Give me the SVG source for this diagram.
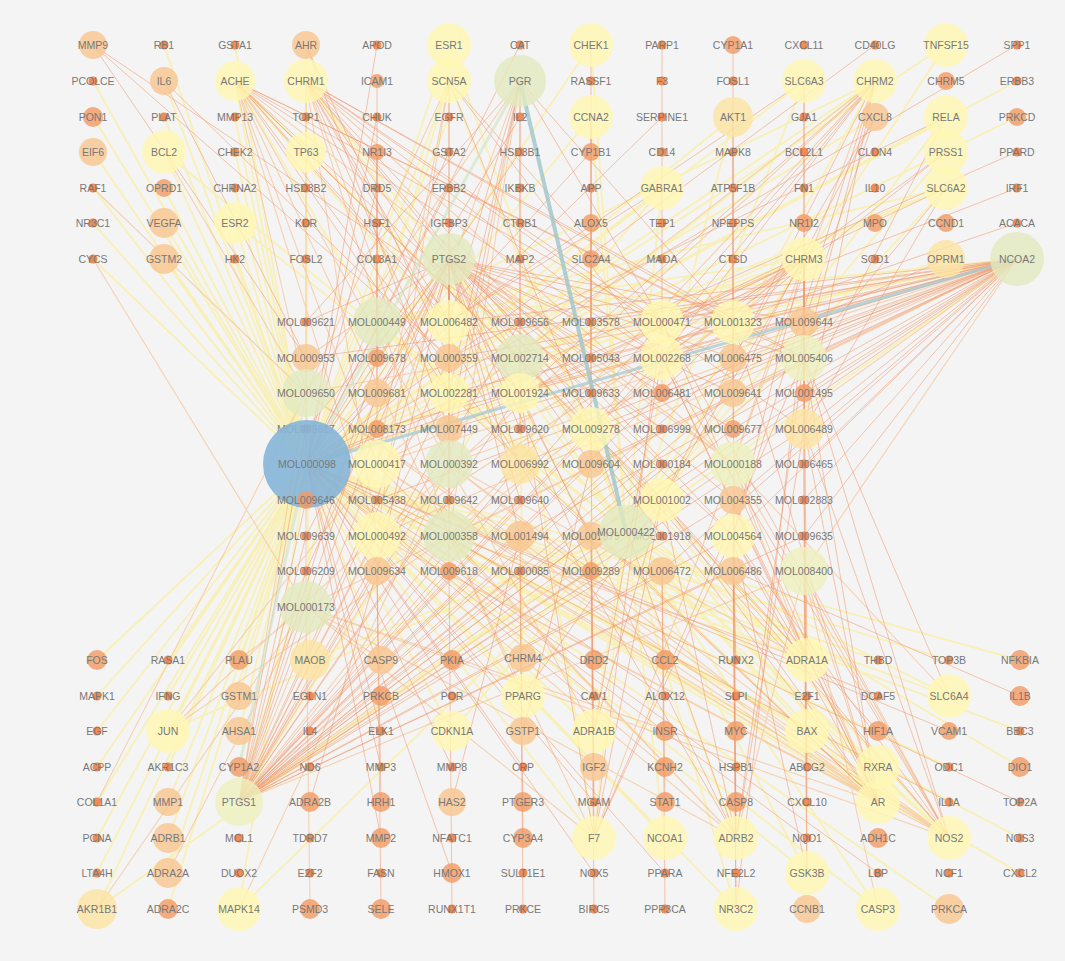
<svg xmlns="http://www.w3.org/2000/svg" width="1065" height="961" viewBox="0 0 1065 961">
<style>
.bg{fill:#f4f4f4}
.ey{fill:none;stroke:#f9ee9a;stroke-width:1.8;stroke-opacity:.7}
.elo{fill:none;stroke:#f6ba86;stroke-width:1.1;stroke-opacity:.6}
.eo{fill:none;stroke:#f19263;stroke-width:1;stroke-opacity:.5}
.et{fill:none;stroke:#9dc5c9;stroke-width:4;stroke-opacity:.8}
.et2{fill:none;stroke:#a6cbd0;stroke-width:3;stroke-opacity:.75}
.eg{fill:none;stroke:#cfe2c2;stroke-width:3;stroke-opacity:.6}
circle{fill-opacity:.8}
.s{fill:#ef8b55;fill-opacity:1}
.m{fill:#f39a62}
.l{fill:#f9c58e}
.ly{fill:#fce3a1}
.y{fill:#fff7b2}
.gy{fill:#eef1be}
.g{fill:#e2eabf}
.b{fill:#86b5d8;fill-opacity:.9}
text{font-family:"Liberation Sans",Arial,sans-serif;font-size:10.5px;fill:#787878;text-anchor:middle;dominant-baseline:central}
</style>
<rect class="bg" width="1065" height="961"/>
<g id="connectors">
<path class="ey" d="M307 464L93 81M307 464L93 117M307 464L93 152M307 464L93 188M307 464L93 223M307 464L93 259M307 464L164 45M307 464L164 81M307 464L164 117M307 464L164 152M307 464L164 188M307 464L164 223M307 464L164 259M307 464L235 45M307 464L235 81M307 464L235 117M307 464L235 152M307 464L235 188M307 464L235 223M307 464L235 259M307 464L306 45M307 464L449 45M307 464L449 81M307 464L449 117M307 464L591 45M307 464L591 117M307 464L662 188M307 464L733 117M307 464L804 81M307 464L875 81M307 464L946 117M307 464L946 152M307 464L946 188M307 464L804 259M307 464L946 259M307 464L875 117M307 464L946 45M307 464L1017 117M307 464L1017 81M307 464L97 660M307 464L97 696M307 464L97 731M307 464L97 767M307 464L97 802M307 464L97 838M307 464L97 873M307 464L97 909M307 464L168 660M307 464L168 696M307 464L168 731M307 464L168 767M307 464L168 802M307 464L168 838M307 464L168 873M307 464L168 909M307 464L239 660M307 464L239 696M307 464L239 731M307 464L239 909M307 464L310 660M307 464L381 660M307 464L452 731M307 464L523 696M307 464L594 731M307 464L594 838M307 464L665 838M307 464L807 660M307 464L807 731M307 464L878 767M307 464L878 802M307 464L949 838M307 464L807 873M307 464L878 909M307 464L736 909M307 464L949 696M307 464L949 909M307 464L1020 660M307 464L1020 731M307 464L1020 838M307 464L1020 873M307 464L949 767M307 464L878 660M307 464L949 660M626 532L235 81M626 532L306 81M626 532L875 81M626 532L804 259M626 532L449 81M626 532L449 259M626 532L239 802M626 532L1017 259M626 532L949 838M626 532L878 802M626 532L594 838M626 532L736 838M626 532L594 731M626 532L807 660M626 532L949 696M626 532L804 81M626 532L946 188M626 532L662 188M626 532L946 152M626 532L878 767M626 532L878 909M626 532L164 152M626 532L733 117M626 532L168 731M626 532L239 909M626 532L807 873M626 532L736 909M626 532L523 696M626 532L591 45M626 532L591 117M626 532L946 45M626 532L946 117M626 532L310 660M626 532L452 731M626 532L665 838M626 532L807 731M626 532L97 909M626 532L235 223M626 532L449 45M626 532L1020 767M377 322L235 81M377 322L449 81M377 322L875 81M377 322L804 259M377 322L1017 259M377 322L239 802M377 322L949 838M377 322L878 802M377 322L807 660M377 322L946 188M520 358L235 81M520 358L306 81M520 358L875 81M520 358L804 259M520 358L1017 259M520 358L662 188M520 358L946 188M520 358L239 802M520 358L878 802M520 358L949 838M520 358L594 838M520 358L807 660M520 358L523 696"/>
<path class="elo" d="M377 464L235 81M377 464L449 81M377 464L520 81M377 464L875 81M377 464L804 259M377 464L1017 259M377 464L239 802M377 464L949 838M377 464L878 802M377 464L736 838M377 464L168 731M449 464L306 81M449 464L235 81M449 464L520 81M449 464L1017 259M449 464L804 259M449 464L239 802M449 464L949 838M449 464L878 802M449 464L594 731M449 464L807 660M449 464L239 909M449 464L449 81M449 536L306 81M449 536L235 81M449 536L520 81M449 536L875 81M449 536L804 259M449 536L1017 259M449 536L239 802M449 536L878 802M449 536L949 838M449 536L594 838M449 536L736 838M449 536L807 660M449 536L523 696M449 536L168 731M377 536L306 81M377 536L235 81M377 536L449 81M377 536L875 81M377 536L804 259M377 536L1017 259M377 536L239 802M377 536L878 802M377 536L949 838M377 536L736 838M377 536L168 731M306 393L235 81M306 393L449 81M306 393L520 81M306 393L1017 259M306 393L239 802M306 393L878 802M306 393L949 838M306 393L164 152M306 393L93 188M306 393L97 802M733 464L306 81M733 464L235 81M733 464L875 81M733 464L804 259M733 464L1017 259M733 464L449 259M733 464L239 802M733 464L878 802M733 464L949 838M733 464L594 838M733 464L807 660M733 464L949 696M306 607L306 81M306 607L310 909M306 607L878 802M306 607L949 838M306 607L1017 259M306 607L736 838M306 607L168 873M306 607L97 909M306 607L239 660M306 607L381 660M306 607L594 838M306 607L93 259M804 571L807 873M804 571L878 909M804 571L949 838M804 571L1017 259M804 571L239 802M804 571L878 802M804 571L736 838"/>
<path class="eo" d="M306 322L449 259M306 322L520 81M449 322L449 81M449 322L306 81M449 322L520 81M449 322L1017 259M449 322L235 81M449 322L804 81M449 322L662 188M520 322L520 81M520 322L449 259M520 322L239 802M591 322L591 45M591 322L449 259M591 322L1017 259M662 322L306 81M662 322L235 81M662 322L875 81M662 322L449 81M662 322L520 81M662 322L1017 259M662 322L804 259M662 322L946 188M662 322L949 838M662 322L878 802M662 322L594 838M662 322L239 802M733 322L306 81M733 322L235 81M733 322L520 81M733 322L1017 259M733 322L804 259M733 322L946 152M733 322L449 259M733 322L239 802M733 322L878 802M733 322L736 838M804 322L804 81M804 322L1017 259M804 322L946 259M804 322L875 117M804 322L449 259M804 322L736 909M306 358L93 45M306 358L164 81M306 358L449 259M306 358L1017 259M377 358L377 81M377 358L449 259M377 358L239 802M449 358L93 45M449 358L164 81M449 358L306 45M449 358L449 259M449 358L239 802M449 358L946 117M449 358L1017 259M591 358L591 117M591 358L449 259M591 358L1017 259M662 358L306 81M662 358L235 81M662 358L449 81M662 358L875 81M662 358L804 259M662 358L1017 259M662 358L239 802M662 358L949 838M662 358L878 802M662 358L807 660M662 358L594 731M662 358L946 152M733 358L733 45M733 358L875 117M733 358L449 259M733 358L1017 259M733 358L239 802M804 358L306 81M804 358L235 81M804 358L875 81M804 358L804 259M804 358L1017 259M804 358L946 188M804 358L449 259M804 358L239 802M804 358L878 802M804 358L949 838M804 358L736 838M804 358L594 838M804 358L807 660M804 358L949 696M377 393L377 152M377 393L449 259M377 393L239 802M449 393L306 81M449 393L235 81M449 393L520 81M449 393L1017 259M449 393L449 259M449 393L239 802M449 393L878 802M520 393L306 81M520 393L235 81M520 393L875 81M520 393L804 259M520 393L1017 259M520 393L239 802M520 393L594 838M520 393L736 838M591 393L591 117M591 393L449 259M662 393L662 45M662 393L449 259M662 393L1017 259M733 393L733 117M733 393L875 117M733 393L449 259M733 393L239 802M733 393L1017 259M804 393L804 81M804 393L1017 259M804 393L946 117M306 429L449 259M306 429L239 802M377 429L377 152M377 429L449 259M377 429L1017 259M377 429L239 802M449 429L449 259M449 429L239 802M449 429L1017 259M449 429L520 81M449 429L306 45M520 429L520 81M520 429L449 259M591 429L235 81M591 429L306 81M591 429L449 81M591 429L875 81M591 429L804 259M591 429L1017 259M591 429L239 802M591 429L949 838M591 429L878 802M591 429L594 838M591 429L807 660M591 429L736 838M662 429L93 45M662 429L449 259M662 429L239 802M733 429L733 152M733 429L449 259M733 429L1017 259M733 429L239 802M804 429L306 81M804 429L875 81M804 429L804 259M804 429L1017 259M804 429L946 188M804 429L239 802M804 429L949 838M804 429L878 802M804 429L736 838M520 464L306 81M520 464L235 81M520 464L1017 259M520 464L449 259M520 464L239 802M520 464L878 802M520 464L736 838M591 464L591 223M591 464L449 259M591 464L1017 259M591 464L239 802M591 464L523 731M662 464L449 259M662 464L239 802M804 464L804 259M804 464L1017 259M804 464L807 767M306 500L449 259M306 500L239 802M377 500L449 259M377 500L1017 259M377 500L239 802M449 500L449 259M449 500L239 802M520 500L449 259M520 500L239 802M662 500L306 81M662 500L235 81M662 500L875 81M662 500L804 259M662 500L1017 259M662 500L239 802M662 500L878 802M662 500L949 838M662 500L736 838M662 500L594 838M662 500L807 660M662 500L594 731M662 500L523 696M733 500L449 259M733 500L1017 259M733 500L239 802M733 500L878 802M733 500L736 909M804 500L804 259M804 500L1017 259M804 500L807 802M306 536L449 259M306 536L239 802M520 536L449 259M520 536L239 802M520 536L1017 259M520 536L523 838M520 536L452 802M591 536L449 259M591 536L239 802M591 536L1017 259M591 536L594 802M591 536L594 767M662 536L449 259M662 536L239 802M733 536L306 81M733 536L235 81M733 536L875 81M733 536L804 259M733 536L1017 259M733 536L239 802M733 536L878 802M733 536L949 838M733 536L736 838M733 536L594 838M733 536L807 660M733 536L807 873M804 536L1017 259M804 536L807 873M804 536L239 802M306 571L239 802M306 571L449 259M377 571L381 802M377 571L381 909M377 571L239 802M377 571L449 259M377 571L310 802M449 571L452 909M449 571L239 802M449 571L449 259M520 571L523 909M520 571L239 802M591 571L594 909M591 571L239 802M591 571L449 259M662 571L665 909M662 571L665 802M662 571L239 802M662 571L1017 259M733 571L736 909M733 571L736 660M733 571L878 731M733 571L1020 696M733 571L239 802M307 464L1017 188M307 464L1017 152M307 464L1017 223M307 464L1020 802M307 464L949 802M307 464L878 873M307 464L878 696M307 464L949 731M307 464L807 838M307 464L665 696M307 464L594 696M307 464L452 696M307 464L381 731M307 464L452 767M307 464L523 767M307 464L381 767M307 464L665 767M307 464L594 802M307 464L381 838M307 464L452 873M307 464L594 873M307 464L665 873M307 464L1017 45M307 464L875 45M307 464L662 117M307 464L591 152M307 464L520 117M307 464L520 152M307 464L449 152M307 464L449 188M307 464L377 117M307 464L377 188M307 464L377 45M307 464L520 45"/>
<path class="eg" d="M520 81L307 464M307 464L239 767"/>
<path class="et" d="M520 81L626 532"/>
<path class="et2" d="M1017 259L307 464"/>
</g>
<g id="nodes">
<g id="n-MMP9" transform="translate(93 45)"><circle class="l" r="14"/><text>MMP9</text></g>
<g id="n-RB1" transform="translate(164 45)"><circle class="s" r="4.5"/><text>RB1</text></g>
<g id="n-GSTA1" transform="translate(235 45)"><circle class="s" r="4.5"/><text>GSTA1</text></g>
<g id="n-AHR" transform="translate(306 45)"><circle class="l" r="14"/><text>AHR</text></g>
<g id="n-APOD" transform="translate(377 45)"><circle class="s" r="4.5"/><text>APOD</text></g>
<g id="n-ESR1" transform="translate(449 45)"><circle class="y" r="22"/><text>ESR1</text></g>
<g id="n-CAT" transform="translate(520 45)"><circle class="s" r="4.5"/><text>CAT</text></g>
<g id="n-CHEK1" transform="translate(591 45)"><circle class="y" r="22"/><text>CHEK1</text></g>
<g id="n-PARP1" transform="translate(662 45)"><circle class="s" r="4.5"/><text>PARP1</text></g>
<g id="n-CYP1A1" transform="translate(733 45)"><circle class="m" r="9"/><text>CYP1A1</text></g>
<g id="n-CXCL11" transform="translate(804 45)"><circle class="s" r="4.5"/><text>CXCL11</text></g>
<g id="n-CD40LG" transform="translate(875 45)"><circle class="s" r="4.5"/><text>CD40LG</text></g>
<g id="n-TNFSF15" transform="translate(946 45)"><circle class="y" r="22"/><text>TNFSF15</text></g>
<g id="n-SPP1" transform="translate(1017 45)"><circle class="s" r="4.5"/><text>SPP1</text></g>
<g id="n-PCOLCE" transform="translate(93 81)"><circle class="s" r="4.5"/><text>PCOLCE</text></g>
<g id="n-IL6" transform="translate(164 81)"><circle class="l" r="14"/><text>IL6</text></g>
<g id="n-ACHE" transform="translate(235 81)"><circle class="y" r="20"/><text>ACHE</text></g>
<g id="n-CHRM1" transform="translate(306 81)"><circle class="y" r="22"/><text>CHRM1</text></g>
<g id="n-ICAM1" transform="translate(377 81)"><circle class="m" r="7"/><text>ICAM1</text></g>
<g id="n-SCN5A" transform="translate(449 81)"><circle class="y" r="22"/><text>SCN5A</text></g>
<g id="n-PGR" transform="translate(520 81)"><circle class="g" r="26"/><text>PGR</text></g>
<g id="n-RASSF1" transform="translate(591 81)"><circle class="s" r="4.5"/><text>RASSF1</text></g>
<g id="n-F3" transform="translate(662 81)"><circle class="s" r="4.5"/><text>F3</text></g>
<g id="n-FOSL1" transform="translate(733 81)"><circle class="s" r="4.5"/><text>FOSL1</text></g>
<g id="n-SLC6A3" transform="translate(804 81)"><circle class="y" r="22"/><text>SLC6A3</text></g>
<g id="n-CHRM2" transform="translate(875 81)"><circle class="y" r="22"/><text>CHRM2</text></g>
<g id="n-CHRM5" transform="translate(946 81)"><circle class="m" r="9"/><text>CHRM5</text></g>
<g id="n-ERBB3" transform="translate(1017 81)"><circle class="s" r="4.5"/><text>ERBB3</text></g>
<g id="n-PON1" transform="translate(93 117)"><circle class="m" r="10"/><text>PON1</text></g>
<g id="n-PLAT" transform="translate(164 117)"><circle class="s" r="4.5"/><text>PLAT</text></g>
<g id="n-MMP13" transform="translate(235 117)"><circle class="s" r="4.5"/><text>MMP13</text></g>
<g id="n-TOP1" transform="translate(306 117)"><circle class="s" r="4.5"/><text>TOP1</text></g>
<g id="n-CHUK" transform="translate(377 117)"><circle class="s" r="4.5"/><text>CHUK</text></g>
<g id="n-EGFR" transform="translate(449 117)"><circle class="s" r="4.5"/><text>EGFR</text></g>
<g id="n-IL2" transform="translate(520 117)"><circle class="s" r="4.5"/><text>IL2</text></g>
<g id="n-CCNA2" transform="translate(591 117)"><circle class="y" r="22"/><text>CCNA2</text></g>
<g id="n-SERPINE1" transform="translate(662 117)"><circle class="s" r="4.5"/><text>SERPINE1</text></g>
<g id="n-AKT1" transform="translate(733 117)"><circle class="ly" r="20"/><text>AKT1</text></g>
<g id="n-GJA1" transform="translate(804 117)"><circle class="s" r="4.5"/><text>GJA1</text></g>
<g id="n-CXCL8" transform="translate(875 117)"><circle class="l" r="14"/><text>CXCL8</text></g>
<g id="n-RELA" transform="translate(946 117)"><circle class="y" r="22"/><text>RELA</text></g>
<g id="n-PRKCD" transform="translate(1017 117)"><circle class="m" r="9"/><text>PRKCD</text></g>
<g id="n-EIF6" transform="translate(93 152)"><circle class="l" r="14"/><text>EIF6</text></g>
<g id="n-BCL2" transform="translate(164 152)"><circle class="y" r="22"/><text>BCL2</text></g>
<g id="n-CHEK2" transform="translate(235 152)"><circle class="s" r="4.5"/><text>CHEK2</text></g>
<g id="n-TP63" transform="translate(306 152)"><circle class="y" r="20"/><text>TP63</text></g>
<g id="n-NR1I3" transform="translate(377 152)"><circle class="m" r="8"/><text>NR1I3</text></g>
<g id="n-GSTA2" transform="translate(449 152)"><circle class="s" r="4.5"/><text>GSTA2</text></g>
<g id="n-HSD3B1" transform="translate(520 152)"><circle class="s" r="4.5"/><text>HSD3B1</text></g>
<g id="n-CYP1B1" transform="translate(591 152)"><circle class="m" r="9"/><text>CYP1B1</text></g>
<g id="n-CD14" transform="translate(662 152)"><circle class="s" r="4.5"/><text>CD14</text></g>
<g id="n-MAPK8" transform="translate(733 152)"><circle class="s" r="4.5"/><text>MAPK8</text></g>
<g id="n-BCL2L1" transform="translate(804 152)"><circle class="s" r="4.5"/><text>BCL2L1</text></g>
<g id="n-CLDN4" transform="translate(875 152)"><circle class="s" r="4.5"/><text>CLDN4</text></g>
<g id="n-PRSS1" transform="translate(946 152)"><circle class="y" r="22"/><text>PRSS1</text></g>
<g id="n-PPARD" transform="translate(1017 152)"><circle class="s" r="4.5"/><text>PPARD</text></g>
<g id="n-RAF1" transform="translate(93 188)"><circle class="s" r="4.5"/><text>RAF1</text></g>
<g id="n-OPRD1" transform="translate(164 188)"><circle class="m" r="9"/><text>OPRD1</text></g>
<g id="n-CHRNA2" transform="translate(235 188)"><circle class="s" r="4.5"/><text>CHRNA2</text></g>
<g id="n-HSD3B2" transform="translate(306 188)"><circle class="s" r="4.5"/><text>HSD3B2</text></g>
<g id="n-DRD5" transform="translate(377 188)"><circle class="s" r="4.5"/><text>DRD5</text></g>
<g id="n-ERBB2" transform="translate(449 188)"><circle class="s" r="4.5"/><text>ERBB2</text></g>
<g id="n-IKBKB" transform="translate(520 188)"><circle class="s" r="4.5"/><text>IKBKB</text></g>
<g id="n-APP" transform="translate(591 188)"><circle class="s" r="4.5"/><text>APP</text></g>
<g id="n-GABRA1" transform="translate(662 188)"><circle class="y" r="22"/><text>GABRA1</text></g>
<g id="n-ATP5F1B" transform="translate(733 188)"><circle class="s" r="4.5"/><text>ATP5F1B</text></g>
<g id="n-FN1" transform="translate(804 188)"><circle class="s" r="4.5"/><text>FN1</text></g>
<g id="n-IL10" transform="translate(875 188)"><circle class="s" r="4.5"/><text>IL10</text></g>
<g id="n-SLC6A2" transform="translate(946 188)"><circle class="y" r="22"/><text>SLC6A2</text></g>
<g id="n-IRF1" transform="translate(1017 188)"><circle class="s" r="4.5"/><text>IRF1</text></g>
<g id="n-NR3C1" transform="translate(93 223)"><circle class="s" r="4.5"/><text>NR3C1</text></g>
<g id="n-VEGFA" transform="translate(164 223)"><circle class="l" r="15"/><text>VEGFA</text></g>
<g id="n-ESR2" transform="translate(235 223)"><circle class="y" r="21"/><text>ESR2</text></g>
<g id="n-KDR" transform="translate(306 223)"><circle class="s" r="4.5"/><text>KDR</text></g>
<g id="n-HSF1" transform="translate(377 223)"><circle class="s" r="4.5"/><text>HSF1</text></g>
<g id="n-IGFBP3" transform="translate(449 223)"><circle class="s" r="4.5"/><text>IGFBP3</text></g>
<g id="n-CTRB1" transform="translate(520 223)"><circle class="s" r="4.5"/><text>CTRB1</text></g>
<g id="n-ALOX5" transform="translate(591 223)"><circle class="m" r="9"/><text>ALOX5</text></g>
<g id="n-TEP1" transform="translate(662 223)"><circle class="s" r="4.5"/><text>TEP1</text></g>
<g id="n-NPEPPS" transform="translate(733 223)"><circle class="s" r="4.5"/><text>NPEPPS</text></g>
<g id="n-NR1I2" transform="translate(804 223)"><circle class="m" r="9"/><text>NR1I2</text></g>
<g id="n-MPO" transform="translate(875 223)"><circle class="m" r="9"/><text>MPO</text></g>
<g id="n-CCND1" transform="translate(946 223)"><circle class="m" r="9"/><text>CCND1</text></g>
<g id="n-ACACA" transform="translate(1017 223)"><circle class="s" r="4.5"/><text>ACACA</text></g>
<g id="n-CYCS" transform="translate(93 259)"><circle class="s" r="4.5"/><text>CYCS</text></g>
<g id="n-GSTM2" transform="translate(164 259)"><circle class="l" r="15"/><text>GSTM2</text></g>
<g id="n-HK2" transform="translate(235 259)"><circle class="s" r="4.5"/><text>HK2</text></g>
<g id="n-FOSL2" transform="translate(306 259)"><circle class="s" r="4.5"/><text>FOSL2</text></g>
<g id="n-COL3A1" transform="translate(377 259)"><circle class="s" r="4.5"/><text>COL3A1</text></g>
<g id="n-PTGS2" transform="translate(449 259)"><circle class="g" r="26"/><text>PTGS2</text></g>
<g id="n-MAP2" transform="translate(520 259)"><circle class="s" r="4.5"/><text>MAP2</text></g>
<g id="n-SLC2A4" transform="translate(591 259)"><circle class="m" r="9"/><text>SLC2A4</text></g>
<g id="n-MAOA" transform="translate(662 259)"><circle class="s" r="4.5"/><text>MAOA</text></g>
<g id="n-CTSD" transform="translate(733 259)"><circle class="s" r="4.5"/><text>CTSD</text></g>
<g id="n-CHRM3" transform="translate(804 259)"><circle class="y" r="22"/><text>CHRM3</text></g>
<g id="n-SOD1" transform="translate(875 259)"><circle class="s" r="4.5"/><text>SOD1</text></g>
<g id="n-OPRM1" transform="translate(946 259)"><circle class="ly" r="19"/><text>OPRM1</text></g>
<g id="n-NCOA2" transform="translate(1017 259)"><circle class="g" r="27"/><text>NCOA2</text></g>
<g id="n-MOL009621" transform="translate(306 322)"><circle class="s" r="4.5"/><text>MOL009621</text></g>
<g id="n-MOL000449" transform="translate(377 322)"><circle class="g" r="24"/><text>MOL000449</text></g>
<g id="n-MOL006482" transform="translate(449 322)"><circle class="y" r="22"/><text>MOL006482</text></g>
<g id="n-MOL009656" transform="translate(520 322)"><circle class="s" r="4.5"/><text>MOL009656</text></g>
<g id="n-MOL003578" transform="translate(591 322)"><circle class="s" r="4.5"/><text>MOL003578</text></g>
<g id="n-MOL000471" transform="translate(662 322)"><circle class="y" r="22"/><text>MOL000471</text></g>
<g id="n-MOL001323" transform="translate(733 322)"><circle class="y" r="22"/><text>MOL001323</text></g>
<g id="n-MOL009644" transform="translate(804 322)"><circle class="l" r="15"/><text>MOL009644</text></g>
<g id="n-MOL000953" transform="translate(306 358)"><circle class="l" r="14"/><text>MOL000953</text></g>
<g id="n-MOL009678" transform="translate(377 358)"><circle class="m" r="9"/><text>MOL009678</text></g>
<g id="n-MOL000359" transform="translate(449 358)"><circle class="l" r="14"/><text>MOL000359</text></g>
<g id="n-MOL002714" transform="translate(520 358)"><circle class="g" r="24"/><text>MOL002714</text></g>
<g id="n-MOL005043" transform="translate(591 358)"><circle class="s" r="4.5"/><text>MOL005043</text></g>
<g id="n-MOL002268" transform="translate(662 358)"><circle class="y" r="22"/><text>MOL002268</text></g>
<g id="n-MOL006475" transform="translate(733 358)"><circle class="l" r="14"/><text>MOL006475</text></g>
<g id="n-MOL005406" transform="translate(804 358)"><circle class="gy" r="23"/><text>MOL005406</text></g>
<g id="n-MOL009650" transform="translate(306 393)"><circle class="g" r="24"/><text>MOL009650</text></g>
<g id="n-MOL009681" transform="translate(377 393)"><circle class="l" r="14"/><text>MOL009681</text></g>
<g id="n-MOL002281" transform="translate(449 393)"><circle class="y" r="20"/><text>MOL002281</text></g>
<g id="n-MOL001924" transform="translate(520 393)"><circle class="y" r="20"/><text>MOL001924</text></g>
<g id="n-MOL009633" transform="translate(591 393)"><circle class="s" r="4.5"/><text>MOL009633</text></g>
<g id="n-MOL006481" transform="translate(662 393)"><circle class="m" r="9"/><text>MOL006481</text></g>
<g id="n-MOL009641" transform="translate(733 393)"><circle class="l" r="14"/><text>MOL009641</text></g>
<g id="n-MOL001495" transform="translate(804 393)"><circle class="m" r="9"/><text>MOL001495</text></g>
<g id="n-MOL009617" transform="translate(306 429)"><circle class="s" r="4.5"/><text>MOL009617</text></g>
<g id="n-MOL008173" transform="translate(377 429)"><circle class="m" r="9"/><text>MOL008173</text></g>
<g id="n-MOL007449" transform="translate(449 429)"><circle class="l" r="14"/><text>MOL007449</text></g>
<g id="n-MOL009620" transform="translate(520 429)"><circle class="s" r="4.5"/><text>MOL009620</text></g>
<g id="n-MOL009278" transform="translate(591 429)"><circle class="y" r="22"/><text>MOL009278</text></g>
<g id="n-MOL006999" transform="translate(662 429)"><circle class="s" r="4.5"/><text>MOL006999</text></g>
<g id="n-MOL009677" transform="translate(733 429)"><circle class="m" r="9"/><text>MOL009677</text></g>
<g id="n-MOL006489" transform="translate(804 429)"><circle class="ly" r="20"/><text>MOL006489</text></g>
<g id="n-MOL000098" transform="translate(307 464)"><circle class="b" r="44"/><text>MOL000098</text></g>
<g id="n-MOL000417" transform="translate(377 464)"><circle class="y" r="24"/><text>MOL000417</text></g>
<g id="n-MOL000392" transform="translate(449 464)"><circle class="g" r="24"/><text>MOL000392</text></g>
<g id="n-MOL006992" transform="translate(520 464)"><circle class="ly" r="20"/><text>MOL006992</text></g>
<g id="n-MOL009604" transform="translate(591 464)"><circle class="l" r="14"/><text>MOL009604</text></g>
<g id="n-MOL000184" transform="translate(662 464)"><circle class="s" r="4.5"/><text>MOL000184</text></g>
<g id="n-MOL000188" transform="translate(733 464)"><circle class="gy" r="23"/><text>MOL000188</text></g>
<g id="n-MOL006465" transform="translate(804 464)"><circle class="s" r="4.5"/><text>MOL006465</text></g>
<g id="n-MOL009646" transform="translate(306 500)"><circle class="m" r="9"/><text>MOL009646</text></g>
<g id="n-MOL005438" transform="translate(377 500)"><circle class="s" r="4.5"/><text>MOL005438</text></g>
<g id="n-MOL009642" transform="translate(449 500)"><circle class="s" r="4.5"/><text>MOL009642</text></g>
<g id="n-MOL009640" transform="translate(520 500)"><circle class="s" r="4.5"/><text>MOL009640</text></g>
<g id="n-MOL001002" transform="translate(662 500)"><circle class="y" r="22"/><text>MOL001002</text></g>
<g id="n-MOL004355" transform="translate(733 500)"><circle class="l" r="14"/><text>MOL004355</text></g>
<g id="n-MOL002883" transform="translate(804 500)"><circle class="s" r="4.5"/><text>MOL002883</text></g>
<g id="n-MOL009639" transform="translate(306 536)"><circle class="s" r="4.5"/><text>MOL009639</text></g>
<g id="n-MOL000492" transform="translate(377 536)"><circle class="y" r="24"/><text>MOL000492</text></g>
<g id="n-MOL000358" transform="translate(449 536)"><circle class="g" r="26"/><text>MOL000358</text></g>
<g id="n-MOL001494" transform="translate(520 536)"><circle class="l" r="15"/><text>MOL001494</text></g>
<g id="n-MOL001979" transform="translate(591 536)"><circle class="l" r="14"/><text>MOL001979</text></g>
<g id="n-MOL001918" transform="translate(662 536)"><circle class="s" r="4.5"/><text>MOL001918</text></g>
<g id="n-MOL004564" transform="translate(733 536)"><circle class="y" r="22"/><text>MOL004564</text></g>
<g id="n-MOL009635" transform="translate(804 536)"><circle class="s" r="4.5"/><text>MOL009635</text></g>
<g id="n-MOL006209" transform="translate(306 571)"><circle class="s" r="4.5"/><text>MOL006209</text></g>
<g id="n-MOL009634" transform="translate(377 571)"><circle class="l" r="14"/><text>MOL009634</text></g>
<g id="n-MOL009618" transform="translate(449 571)"><circle class="m" r="9"/><text>MOL009618</text></g>
<g id="n-MOL000085" transform="translate(520 571)"><circle class="s" r="4.5"/><text>MOL000085</text></g>
<g id="n-MOL009289" transform="translate(591 571)"><circle class="m" r="9"/><text>MOL009289</text></g>
<g id="n-MOL006472" transform="translate(662 571)"><circle class="l" r="14"/><text>MOL006472</text></g>
<g id="n-MOL006486" transform="translate(733 571)"><circle class="l" r="14"/><text>MOL006486</text></g>
<g id="n-MOL008400" transform="translate(804 571)"><circle class="gy" r="24"/><text>MOL008400</text></g>
<g id="n-MOL000173" transform="translate(306 607)"><circle class="g" r="26"/><text>MOL000173</text></g>
<g id="n-MOL000422" transform="translate(626 532)"><circle class="g" r="27"/><text>MOL000422</text></g>
<g id="n-FOS" transform="translate(97 660)"><circle class="m" r="10"/><text>FOS</text></g>
<g id="n-RASA1" transform="translate(168 660)"><circle class="s" r="4.5"/><text>RASA1</text></g>
<g id="n-PLAU" transform="translate(239 660)"><circle class="m" r="10"/><text>PLAU</text></g>
<g id="n-MAOB" transform="translate(310 660)"><circle class="ly" r="20"/><text>MAOB</text></g>
<g id="n-CASP9" transform="translate(381 660)"><circle class="l" r="14"/><text>CASP9</text></g>
<g id="n-PKIA" transform="translate(452 660)"><circle class="m" r="10"/><text>PKIA</text></g>
<g id="n-CHRM4" transform="translate(523 658)"><circle class="l" r="14"/><text>CHRM4</text></g>
<g id="n-DRD2" transform="translate(594 660)"><circle class="m" r="10"/><text>DRD2</text></g>
<g id="n-CCL2" transform="translate(665 660)"><circle class="m" r="10"/><text>CCL2</text></g>
<g id="n-RUNX2" transform="translate(736 660)"><circle class="s" r="4.5"/><text>RUNX2</text></g>
<g id="n-ADRA1A" transform="translate(807 660)"><circle class="y" r="22"/><text>ADRA1A</text></g>
<g id="n-THBD" transform="translate(878 660)"><circle class="s" r="4.5"/><text>THBD</text></g>
<g id="n-TOP3B" transform="translate(949 660)"><circle class="s" r="4.5"/><text>TOP3B</text></g>
<g id="n-NFKBIA" transform="translate(1020 660)"><circle class="m" r="10"/><text>NFKBIA</text></g>
<g id="n-MAPK1" transform="translate(97 696)"><circle class="s" r="4.5"/><text>MAPK1</text></g>
<g id="n-IFNG" transform="translate(168 696)"><circle class="s" r="4.5"/><text>IFNG</text></g>
<g id="n-GSTM1" transform="translate(239 696)"><circle class="l" r="14"/><text>GSTM1</text></g>
<g id="n-EGLN1" transform="translate(310 696)"><circle class="s" r="4.5"/><text>EGLN1</text></g>
<g id="n-PRKCB" transform="translate(381 696)"><circle class="m" r="10"/><text>PRKCB</text></g>
<g id="n-POR" transform="translate(452 696)"><circle class="s" r="4.5"/><text>POR</text></g>
<g id="n-PPARG" transform="translate(523 696)"><circle class="y" r="22"/><text>PPARG</text></g>
<g id="n-CAV1" transform="translate(594 696)"><circle class="s" r="4.5"/><text>CAV1</text></g>
<g id="n-ALOX12" transform="translate(665 696)"><circle class="s" r="4.5"/><text>ALOX12</text></g>
<g id="n-SLPI" transform="translate(736 696)"><circle class="s" r="4.5"/><text>SLPI</text></g>
<g id="n-E2F1" transform="translate(807 696)"><circle class="s" r="4.5"/><text>E2F1</text></g>
<g id="n-DCAF5" transform="translate(878 696)"><circle class="s" r="4.5"/><text>DCAF5</text></g>
<g id="n-SLC6A4" transform="translate(949 696)"><circle class="y" r="22"/><text>SLC6A4</text></g>
<g id="n-IL1B" transform="translate(1020 696)"><circle class="m" r="10"/><text>IL1B</text></g>
<g id="n-EGF" transform="translate(97 731)"><circle class="s" r="4.5"/><text>EGF</text></g>
<g id="n-JUN" transform="translate(168 731)"><circle class="y" r="22"/><text>JUN</text></g>
<g id="n-AHSA1" transform="translate(239 731)"><circle class="l" r="14"/><text>AHSA1</text></g>
<g id="n-IL4" transform="translate(310 731)"><circle class="s" r="4.5"/><text>IL4</text></g>
<g id="n-ELK1" transform="translate(381 731)"><circle class="s" r="4.5"/><text>ELK1</text></g>
<g id="n-CDKN1A" transform="translate(452 731)"><circle class="y" r="20"/><text>CDKN1A</text></g>
<g id="n-GSTP1" transform="translate(523 731)"><circle class="l" r="14"/><text>GSTP1</text></g>
<g id="n-ADRA1B" transform="translate(594 731)"><circle class="y" r="22"/><text>ADRA1B</text></g>
<g id="n-INSR" transform="translate(665 731)"><circle class="m" r="10"/><text>INSR</text></g>
<g id="n-MYC" transform="translate(736 731)"><circle class="m" r="10"/><text>MYC</text></g>
<g id="n-BAX" transform="translate(807 731)"><circle class="y" r="22"/><text>BAX</text></g>
<g id="n-HIF1A" transform="translate(878 731)"><circle class="m" r="10"/><text>HIF1A</text></g>
<g id="n-VCAM1" transform="translate(949 731)"><circle class="m" r="9"/><text>VCAM1</text></g>
<g id="n-BBC3" transform="translate(1020 731)"><circle class="s" r="4.5"/><text>BBC3</text></g>
<g id="n-ACPP" transform="translate(97 767)"><circle class="s" r="4.5"/><text>ACPP</text></g>
<g id="n-AKR1C3" transform="translate(168 767)"><circle class="s" r="4.5"/><text>AKR1C3</text></g>
<g id="n-CYP1A2" transform="translate(239 767)"><circle class="m" r="10"/><text>CYP1A2</text></g>
<g id="n-ND6" transform="translate(310 767)"><circle class="s" r="4.5"/><text>ND6</text></g>
<g id="n-MMP3" transform="translate(381 767)"><circle class="s" r="4.5"/><text>MMP3</text></g>
<g id="n-MMP8" transform="translate(452 767)"><circle class="s" r="4.5"/><text>MMP8</text></g>
<g id="n-CRP" transform="translate(523 767)"><circle class="s" r="4.5"/><text>CRP</text></g>
<g id="n-IGF2" transform="translate(594 767)"><circle class="l" r="14"/><text>IGF2</text></g>
<g id="n-KCNH2" transform="translate(665 767)"><circle class="m" r="10"/><text>KCNH2</text></g>
<g id="n-HSPB1" transform="translate(736 767)"><circle class="s" r="4.5"/><text>HSPB1</text></g>
<g id="n-ABCG2" transform="translate(807 767)"><circle class="s" r="4.5"/><text>ABCG2</text></g>
<g id="n-RXRA" transform="translate(878 767)"><circle class="y" r="22"/><text>RXRA</text></g>
<g id="n-ODC1" transform="translate(949 767)"><circle class="s" r="4.5"/><text>ODC1</text></g>
<g id="n-DIO1" transform="translate(1020 767)"><circle class="m" r="10"/><text>DIO1</text></g>
<g id="n-COL1A1" transform="translate(97 802)"><circle class="s" r="4.5"/><text>COL1A1</text></g>
<g id="n-MMP1" transform="translate(168 802)"><circle class="l" r="14"/><text>MMP1</text></g>
<g id="n-PTGS1" transform="translate(239 802)"><circle class="gy" r="24"/><text>PTGS1</text></g>
<g id="n-ADRA2B" transform="translate(310 802)"><circle class="m" r="10"/><text>ADRA2B</text></g>
<g id="n-HRH1" transform="translate(381 802)"><circle class="m" r="10"/><text>HRH1</text></g>
<g id="n-HAS2" transform="translate(452 802)"><circle class="l" r="14"/><text>HAS2</text></g>
<g id="n-PTGER3" transform="translate(523 802)"><circle class="m" r="10"/><text>PTGER3</text></g>
<g id="n-MGAM" transform="translate(594 802)"><circle class="s" r="4.5"/><text>MGAM</text></g>
<g id="n-STAT1" transform="translate(665 802)"><circle class="m" r="10"/><text>STAT1</text></g>
<g id="n-CASP8" transform="translate(736 802)"><circle class="m" r="10"/><text>CASP8</text></g>
<g id="n-CXCL10" transform="translate(807 802)"><circle class="s" r="4.5"/><text>CXCL10</text></g>
<g id="n-AR" transform="translate(878 802)"><circle class="y" r="22"/><text>AR</text></g>
<g id="n-IL1A" transform="translate(949 802)"><circle class="s" r="4.5"/><text>IL1A</text></g>
<g id="n-TOP2A" transform="translate(1020 802)"><circle class="s" r="4.5"/><text>TOP2A</text></g>
<g id="n-PCNA" transform="translate(97 838)"><circle class="s" r="4.5"/><text>PCNA</text></g>
<g id="n-ADRB1" transform="translate(168 838)"><circle class="l" r="15"/><text>ADRB1</text></g>
<g id="n-MCL1" transform="translate(239 838)"><circle class="s" r="4.5"/><text>MCL1</text></g>
<g id="n-TDRD7" transform="translate(310 838)"><circle class="s" r="4.5"/><text>TDRD7</text></g>
<g id="n-MMP2" transform="translate(381 838)"><circle class="m" r="10"/><text>MMP2</text></g>
<g id="n-NFATC1" transform="translate(452 838)"><circle class="s" r="4.5"/><text>NFATC1</text></g>
<g id="n-CYP3A4" transform="translate(523 838)"><circle class="m" r="10"/><text>CYP3A4</text></g>
<g id="n-F7" transform="translate(594 838)"><circle class="y" r="22"/><text>F7</text></g>
<g id="n-NCOA1" transform="translate(665 838)"><circle class="y" r="22"/><text>NCOA1</text></g>
<g id="n-ADRB2" transform="translate(736 838)"><circle class="y" r="22"/><text>ADRB2</text></g>
<g id="n-NQO1" transform="translate(807 838)"><circle class="s" r="4.5"/><text>NQO1</text></g>
<g id="n-ADH1C" transform="translate(878 838)"><circle class="m" r="10"/><text>ADH1C</text></g>
<g id="n-NOS2" transform="translate(949 838)"><circle class="y" r="22"/><text>NOS2</text></g>
<g id="n-NOS3" transform="translate(1020 838)"><circle class="s" r="4.5"/><text>NOS3</text></g>
<g id="n-LTA4H" transform="translate(97 873)"><circle class="s" r="4.5"/><text>LTA4H</text></g>
<g id="n-ADRA2A" transform="translate(168 873)"><circle class="l" r="15"/><text>ADRA2A</text></g>
<g id="n-DUOX2" transform="translate(239 873)"><circle class="s" r="4.5"/><text>DUOX2</text></g>
<g id="n-E2F2" transform="translate(310 873)"><circle class="s" r="4.5"/><text>E2F2</text></g>
<g id="n-FASN" transform="translate(381 873)"><circle class="s" r="4.5"/><text>FASN</text></g>
<g id="n-HMOX1" transform="translate(452 873)"><circle class="m" r="10"/><text>HMOX1</text></g>
<g id="n-SULT1E1" transform="translate(523 873)"><circle class="s" r="4.5"/><text>SULT1E1</text></g>
<g id="n-NOX5" transform="translate(594 873)"><circle class="s" r="4.5"/><text>NOX5</text></g>
<g id="n-PPARA" transform="translate(665 873)"><circle class="s" r="4.5"/><text>PPARA</text></g>
<g id="n-NFE2L2" transform="translate(736 873)"><circle class="s" r="4.5"/><text>NFE2L2</text></g>
<g id="n-GSK3B" transform="translate(807 873)"><circle class="y" r="22"/><text>GSK3B</text></g>
<g id="n-LBP" transform="translate(878 873)"><circle class="s" r="4.5"/><text>LBP</text></g>
<g id="n-NCF1" transform="translate(949 873)"><circle class="s" r="4.5"/><text>NCF1</text></g>
<g id="n-CXCL2" transform="translate(1020 873)"><circle class="s" r="4.5"/><text>CXCL2</text></g>
<g id="n-AKR1B1" transform="translate(97 909)"><circle class="ly" r="20"/><text>AKR1B1</text></g>
<g id="n-ADRA2C" transform="translate(168 909)"><circle class="m" r="10"/><text>ADRA2C</text></g>
<g id="n-MAPK14" transform="translate(239 909)"><circle class="y" r="22"/><text>MAPK14</text></g>
<g id="n-PSMD3" transform="translate(310 909)"><circle class="m" r="10"/><text>PSMD3</text></g>
<g id="n-SELE" transform="translate(381 909)"><circle class="m" r="10"/><text>SELE</text></g>
<g id="n-RUNX1T1" transform="translate(452 909)"><circle class="s" r="4.5"/><text>RUNX1T1</text></g>
<g id="n-PRKCE" transform="translate(523 909)"><circle class="s" r="4.5"/><text>PRKCE</text></g>
<g id="n-BIRC5" transform="translate(594 909)"><circle class="s" r="4.5"/><text>BIRC5</text></g>
<g id="n-PPP3CA" transform="translate(665 909)"><circle class="s" r="4.5"/><text>PPP3CA</text></g>
<g id="n-NR3C2" transform="translate(736 909)"><circle class="y" r="22"/><text>NR3C2</text></g>
<g id="n-CCNB1" transform="translate(807 909)"><circle class="l" r="14"/><text>CCNB1</text></g>
<g id="n-CASP3" transform="translate(878 909)"><circle class="y" r="22"/><text>CASP3</text></g>
<g id="n-PRKCA" transform="translate(949 909)"><circle class="l" r="15"/><text>PRKCA</text></g>
</g>
</svg>
